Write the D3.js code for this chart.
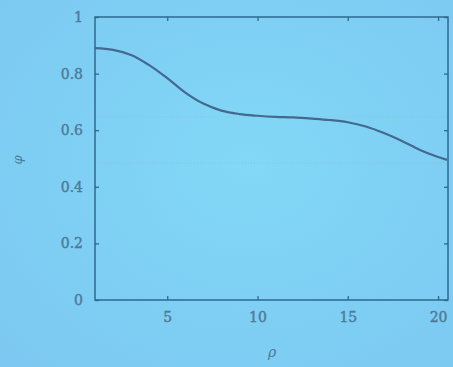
<!DOCTYPE html>
<html><head><meta charset="utf-8">
<script src="https://cdn.jsdelivr.net/npm/d3@7"></script>
<style>
html,body{margin:0;padding:0;background:#7fcdf3;}
svg{display:block;}
</style></head>
<body>
<svg id="chart" width="453" height="367"></svg>
<script>
const rho = [1,2,3,4,5,6,7,8,9,10,11,12,13,14,15,16,17,18,19,20,20.5];
const phi = [0.890,0.884,0.866,0.830,0.784,0.733,0.694,0.669,0.657,0.651,0.647,0.645,0.641,0.636,0.628,0.613,0.590,0.562,0.530,0.505,0.495];
const xTicks = [5,10,15,20];
const yTicks = [0,0.2,0.4,0.6,0.8,1];
const yTickLabels = ["0","0.2","0.4","0.6","0.8","1"];
const refLines = [0.647,0.484];

(function(){
const svg = d3.select("#chart");
const W=453,H=367;
const bg = svg.append("defs").append("radialGradient").attr("id","bg").attr("cx","55%").attr("cy","45%").attr("r","75%");
bg.append("stop").attr("offset","0%").attr("stop-color","#82d8f6");
bg.append("stop").attr("offset","100%").attr("stop-color","#7cc8f2");
svg.append("rect").attr("width",W).attr("height",H).attr("fill","url(#bg)");

const mL=95,mR=448,mT=17,mB=300;
const x = d3.scaleLinear().domain([1,20.55]).range([mL,mR]);
const y = d3.scaleLinear().domain([0,1]).range([mB,mT]);
const axisCol="#2f6890", textCol="#4d7a98";

svg.selectAll(".ref").data(refLines).enter().append("line")
  .attr("x1",mL).attr("x2",mR).attr("y1",d=>y(d)).attr("y2",d=>y(d))
  .attr("stroke","#94b8c8").attr("stroke-width",1).attr("stroke-dasharray","1,2").attr("opacity",0.6);

svg.append("rect").attr("x",mL).attr("y",mT).attr("width",mR-mL).attr("height",mB-mT)
  .attr("fill","none").attr("stroke",axisCol).attr("stroke-width",1.5);

const gB = svg.append("g").attr("transform",`translate(0,${mB})`)
  .call(d3.axisBottom(x).tickValues(xTicks).tickSize(-4).tickPadding(12).tickFormat(d3.format("d")));
const gT = svg.append("g").attr("transform",`translate(0,${mT})`)
  .call(d3.axisTop(x).tickValues(xTicks).tickSize(-4).tickFormat(""));
const gL = svg.append("g").attr("transform",`translate(${mL},0)`)
  .call(d3.axisLeft(y).tickValues(yTicks).tickSize(-4).tickPadding(12).tickFormat((d,i)=>yTickLabels[i]));
const gR = svg.append("g").attr("transform",`translate(${mR},0)`)
  .call(d3.axisRight(y).tickValues(yTicks).tickSize(-4).tickFormat(""));
[gB,gT,gL,gR].forEach(g=>{
  g.select(".domain").remove();
  g.selectAll(".tick line").attr("stroke",axisCol).attr("stroke-width",1.3);
  g.selectAll(".tick text").attr("fill",textCol).attr("font-family","'DejaVu Serif',serif")
    .attr("font-size",14).attr("stroke",textCol).attr("stroke-width",0.4);
});

svg.append("path").datum(rho.map((r,i)=>[r,phi[i]]))
  .attr("fill","none").attr("stroke","#43698f").attr("stroke-width",2.2)
  .attr("d",d3.line().x(d=>x(d[0])).y(d=>y(d[1])).curve(d3.curveCatmullRom));

svg.append("text").attr("x",272).attr("y",357).attr("text-anchor","middle")
  .attr("fill",textCol).attr("font-family","'DejaVu Serif',serif").attr("font-style","italic")
  .attr("font-size",14).text("ρ");
svg.append("text").attr("transform","translate(22,160) rotate(-90)").attr("text-anchor","middle")
  .attr("fill",textCol).attr("font-family","'DejaVu Serif',serif").attr("font-style","italic")
  .attr("font-size",13).text("φ");
})();
</script>
</body></html>
